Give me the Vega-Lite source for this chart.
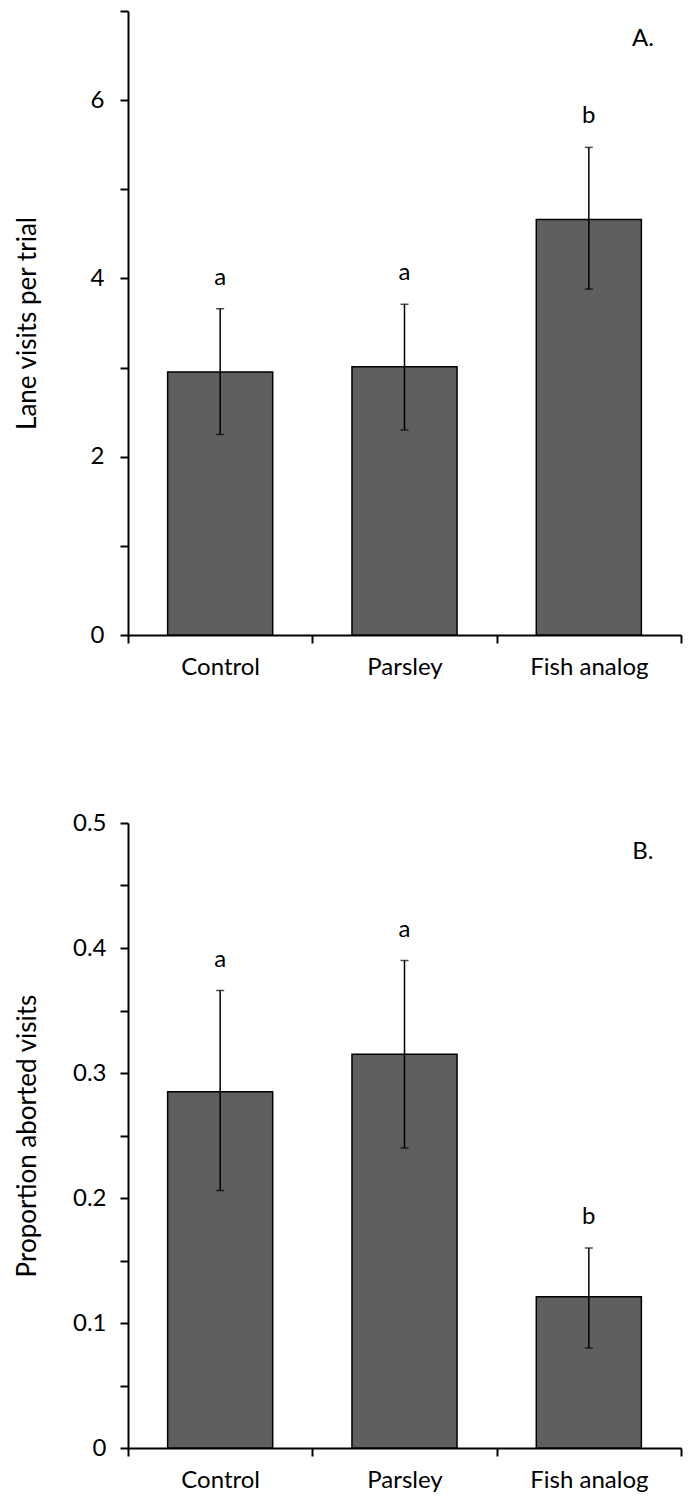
{
  "$schema": "https://vega.github.io/schema/vega-lite/v6.json",
  "padding": {"left": 14, "top": 10, "right": 5, "bottom": 5},
  "background": "white",
  "config": {
    "font": "Lato",
    "view": {"stroke": null},
    "axis": {
      "grid": false,
      "domainColor": "black",
      "domainWidth": 2,
      "tickColor": "black",
      "tickWidth": 2,
      "tickSize": 8,
      "labelColor": "black",
      "labelFontSize": 24,
      "labelFont": "Lato",
      "titleFont": "Lato",
      "titleFontSize": 26,
      "titleFontWeight": "normal",
      "titleColor": "black"
    }
  },
  "datasets": {
    "a": [
      {"treatment": "Control", "mean": 2.95, "lo": 2.25, "hi": 3.66, "letter": "a"},
      {"treatment": "Parsley", "mean": 3.01, "lo": 2.30, "hi": 3.71, "letter": "a"},
      {"treatment": "Fish analog", "mean": 4.66, "lo": 3.88, "hi": 5.47, "letter": "b"}
    ],
    "b": [
      {"treatment": "Control", "mean": 0.285, "lo": 0.206, "hi": 0.366, "letter": "a"},
      {"treatment": "Parsley", "mean": 0.315, "lo": 0.24, "hi": 0.39, "letter": "a"},
      {"treatment": "Fish analog", "mean": 0.121, "lo": 0.08, "hi": 0.16, "letter": "b"}
    ],
    "la": [{"treatment": "Fish analog", "y": 6.69, "label": "A."}],
    "lb": [{"treatment": "Fish analog", "y": 0.477, "label": "B."}]
  },
  "vconcat": [
    {
      "width": 553,
      "height": 624,
      "encoding": {
        "x": {
          "field": "treatment",
          "type": "nominal",
          "sort": ["Control", "Parsley", "Fish analog"],
          "scale": {"paddingInner": 0, "paddingOuter": 0},
          "axis": {"title": null, "labelAngle": 0, "tickBand": "extent", "labelPadding": 12}
        }
      },
      "layer": [
        {
          "data": {"name": "a"},
          "mark": {"type": "bar", "width": {"band": 0.57}, "fill": "#5f5f5f", "stroke": "black", "strokeWidth": 1.5},
          "encoding": {
            "y": {
              "field": "mean",
              "type": "quantitative",
              "scale": {"domain": [0, 7], "nice": false},
              "axis": {
                "title": "Lane visits per trial",
                "values": [0, 1, 2, 3, 4, 5, 6, 7],
                "labelExpr": "round(datum.value) % 2 == 0 ? format(datum.value, 'd') : ''",
                "labelPadding": 16,
                "titleX": -101,
                "titleBaseline": "middle"
              }
            }
          }
        },
        {
          "data": {"name": "a"},
          "mark": {"type": "rule", "color": "black", "strokeWidth": 1.5},
          "encoding": {"y": {"field": "lo", "type": "quantitative"}, "y2": {"field": "hi"}}
        },
        {
          "data": {"name": "a"},
          "mark": {"type": "tick", "orient": "horizontal", "color": "black", "size": 8, "thickness": 1.5},
          "encoding": {"y": {"field": "lo", "type": "quantitative"}}
        },
        {
          "data": {"name": "a"},
          "mark": {"type": "tick", "orient": "horizontal", "color": "black", "size": 8, "thickness": 1.5},
          "encoding": {"y": {"field": "hi", "type": "quantitative"}}
        },
        {
          "data": {"name": "a"},
          "mark": {"type": "text", "fontSize": 24, "dy": -31, "baseline": "middle", "color": "black"},
          "encoding": {"y": {"field": "hi", "type": "quantitative"}, "text": {"field": "letter"}}
        },
        {
          "data": {"name": "la"},
          "mark": {"type": "text", "fontSize": 24, "dx": 54, "baseline": "middle", "color": "black"},
          "encoding": {"y": {"field": "y", "type": "quantitative"}, "text": {"field": "label"}}
        }
      ]
    },
    {
      "width": 553,
      "height": 625,
      "encoding": {
        "x": {
          "field": "treatment",
          "type": "nominal",
          "sort": ["Control", "Parsley", "Fish analog"],
          "scale": {"paddingInner": 0, "paddingOuter": 0},
          "axis": {"title": null, "labelAngle": 0, "tickBand": "extent", "labelPadding": 12}
        }
      },
      "layer": [
        {
          "data": {"name": "b"},
          "mark": {"type": "bar", "width": {"band": 0.57}, "fill": "#5f5f5f", "stroke": "black", "strokeWidth": 1.5},
          "encoding": {
            "y": {
              "field": "mean",
              "type": "quantitative",
              "scale": {"domain": [0, 0.5], "nice": false},
              "axis": {
                "title": "Proportion aborted visits",
                "values": [0, 0.05, 0.1, 0.15, 0.2, 0.25, 0.3, 0.35, 0.4, 0.45, 0.5],
                "labelExpr": "round(datum.value * 100) % 10 == 0 ? format(datum.value, '.1~f') : ''",
                "labelPadding": 14,
                "titleX": -101,
                "titleBaseline": "middle"
              }
            }
          }
        },
        {
          "data": {"name": "b"},
          "mark": {"type": "rule", "color": "black", "strokeWidth": 1.5},
          "encoding": {"y": {"field": "lo", "type": "quantitative"}, "y2": {"field": "hi"}}
        },
        {
          "data": {"name": "b"},
          "mark": {"type": "tick", "orient": "horizontal", "color": "black", "size": 8, "thickness": 1.5},
          "encoding": {"y": {"field": "lo", "type": "quantitative"}}
        },
        {
          "data": {"name": "b"},
          "mark": {"type": "tick", "orient": "horizontal", "color": "black", "size": 8, "thickness": 1.5},
          "encoding": {"y": {"field": "hi", "type": "quantitative"}}
        },
        {
          "data": {"name": "b"},
          "mark": {"type": "text", "fontSize": 24, "dy": -31, "baseline": "middle", "color": "black"},
          "encoding": {"y": {"field": "hi", "type": "quantitative"}, "text": {"field": "letter"}}
        },
        {
          "data": {"name": "lb"},
          "mark": {"type": "text", "fontSize": 24, "dx": 54, "baseline": "middle", "color": "black"},
          "encoding": {"y": {"field": "y", "type": "quantitative"}, "text": {"field": "label"}}
        }
      ]
    }
  ],
  "spacing": 132
}
